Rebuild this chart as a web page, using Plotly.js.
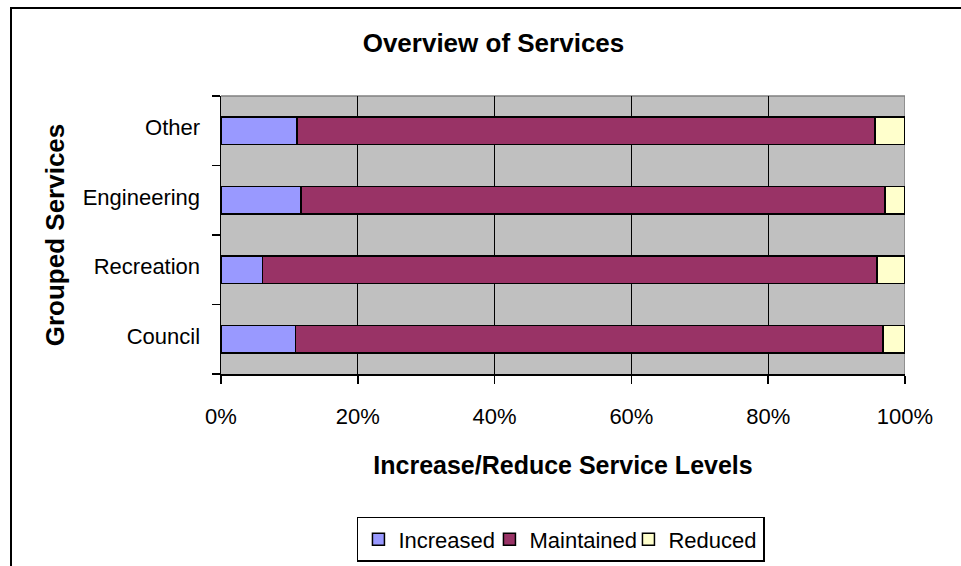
<!DOCTYPE html>
<html>
<head>
<meta charset="utf-8">
<script src="https://cdn.plot.ly/plotly-3.0.1.min.js"></script>
<style>
  html, body { margin: 0; padding: 0; background: #ffffff; }
  #wrap { position: relative; width: 961px; height: 566px; }
  #chart { width: 961px; height: 566px; }
  #frame { position: absolute; left: 10px; top: 7px; right: -10px; bottom: -10px;
           border-left: 2px solid #000; border-top: 2px solid #000; pointer-events: none; }
</style>
</head>
<body>
<div id="wrap">
  <div id="chart"></div>
  <div id="frame"></div>
</div>
<script>
const categories = ['Council', 'Recreation', 'Engineering', 'Other'];
const increased  = [10.9, 6.1, 11.7, 11.1];
const maintained = [85.9, 89.8, 85.4, 84.5];
const reduced    = [3.2, 4.1, 2.9, 4.4];
const seriesNames = ['Increased', 'Maintained', 'Reduced'];
const seriesColors = ['#9999FF', '#993366', '#FFFFCC'];
const xTicks = [0, 20, 40, 60, 80, 100];

const seriesValues = [increased, maintained, reduced];
const legendWidths = [86, 94, 90];
const font = 'Arial, "Liberation Sans", Helvetica, sans-serif';

const traces = seriesValues.map((vals, i) => ({
  type: 'bar',
  orientation: 'h',
  name: seriesNames[i],
  y: categories,
  x: vals,
  legendwidth: legendWidths[i],
  marker: { color: seriesColors[i], line: { color: '#000000', width: 1.5 } },
  hoverinfo: 'skip'
}));

const layout = {
  width: 961,
  height: 566,
  margin: { l: 221, r: 56, t: 96, b: 192, autoexpand: false },
  paper_bgcolor: '#ffffff',
  plot_bgcolor: '#C0C0C0',
  barmode: 'stack',
  barnorm: 'percent',
  bargap: 0.6,
  font: { family: font, color: '#000000', size: 22 },
  title: {
    text: '<b>Overview of Services</b>',
    font: { family: font, size: 26, color: '#000000' },
    xref: 'container', yref: 'container',
    x: 0.5135, xanchor: 'center',
    y: 0.924, yanchor: 'middle'
  },
  xaxis: {
    range: [0, 100],
    tickvals: xTicks,
    ticktext: xTicks.map(v => v + '%'),
    ticks: 'outside', ticklen: 8, tickcolor: '#000000', tickwidth: 1.5,
    ticklabelstandoff: 14,
    tickfont: { family: font, size: 22 },
    showgrid: true, gridcolor: '#000000', gridwidth: 1.3,
    showline: true, linecolor: '#000000', linewidth: 1.5,
    zeroline: false,
    automargin: false,
    fixedrange: true,
    title: {
      text: '<b>Increase/Reduce Service Levels</b>',
      font: { family: font, size: 25 },
      standoff: 28
    }
  },
  yaxis: {
    type: 'category',
    categoryorder: 'array',
    categoryarray: categories,
    tickson: 'boundaries',
    ticks: 'outside', ticklen: 8, tickcolor: '#000000', tickwidth: 1.5,
    ticklabelstandoff: 15,
    ticklabelshift: -3,
    tickfont: { family: font, size: 22 },
    showgrid: false,
    showline: true, linecolor: '#000000', linewidth: 1.5,
    automargin: false,
    fixedrange: true,
    title: {
      text: '<b>Grouped Services</b>',
      font: { family: font, size: 26 },
      standoff: 10
    }
  },
  shapes: [
    {
      type: 'line', xref: 'x', yref: 'paper',
      x0: 100, x1: 100, y0: 0, y1: 1,
      line: { color: '#808080', width: 1.5 },
      layer: 'between'
    },
    {
      type: 'line', xref: 'x', yref: 'paper',
      x0: 0, x1: 100, y0: 1, y1: 1,
      line: { color: '#808080', width: 1.5 },
      layer: 'between'
    }
  ],
  showlegend: true,
  legend: {
    orientation: 'h',
    x: 0.497, xanchor: 'center', xref: 'paper',
    y: 0.0866, yanchor: 'top', yref: 'container',
    bordercolor: '#000000', borderwidth: 1.5,
    bgcolor: '#ffffff',
    font: { family: font, size: 22, color: '#000000' },
    traceorder: 'normal',
    itemclick: false, itemdoubleclick: false
  }
};

Plotly.newPlot('chart', traces, layout, { displayModeBar: false, staticPlot: true });
</script>
</body>
</html>
